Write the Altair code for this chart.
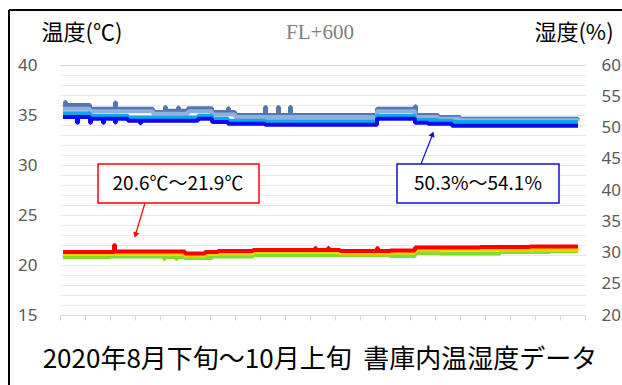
import altair as alt
import pandas as pd

# ---------------- data (days since start of record) ----------------
# temperature (deg C)
RED_T = [0.3, 5.4, 5.5, 12.5, 14.5, 15.8, 19.3, 25.5, 25.6, 26.8, 26.9, 28.0, 31.7, 31.8, 33.0, 35.5, 42.0, 47.0, 51.8]
RED_V = [21.3, 22.0, 21.35, 21.15, 21.3, 21.4, 21.5, 21.7, 21.5, 21.7, 21.5, 21.4, 21.7, 21.4, 21.45, 21.75, 21.8, 21.85, 21.85]
ORG_T = [0.3, 12.5, 14.5, 15.8, 19.3, 28.0, 33.0, 35.5, 51.8]
ORG_V = [21.1, 20.95, 21.1, 21.15, 21.3, 21.2, 21.25, 21.55, 21.6]
GRN_T = [0.3, 5.0, 10.4, 10.5, 11.6, 11.7, 12.5, 15.2, 19.3, 33.0, 35.5, 38.0, 44.0, 49.0, 51.8]
GRN_V = [20.8, 20.85, 20.6, 20.8, 20.6, 20.8, 20.7, 20.85, 21.0, 20.9, 21.2, 21.15, 21.3, 21.4, 21.4]

# humidity (%)
H1_T = [0.3, 0.5, 0.6, 3.0, 5.5, 5.6, 9.3, 10.5, 10.6, 11.8, 11.9, 12.8, 15.2, 16.8, 16.9, 17.5, 20.5, 20.6, 21.8, 21.9, 23.0, 23.1, 31.7, 35.5, 35.6, 37.8, 40.0, 51.8]
H1_V = [53.6, 54.1, 53.6, 53.0, 54.0, 53.0, 52.5, 53.3, 52.7, 53.2, 52.7, 53.1, 52.5, 53.1, 52.5, 52.0, 53.3, 52.0, 53.3, 52.0, 53.3, 52.0, 53.0, 53.4, 52.0, 51.7, 51.4, 51.3]
H2_T = [0.3, 3.0, 9.3, 12.8, 15.2, 17.5, 31.7, 35.5, 37.8, 40.0, 51.8]
H2_V = [53.0, 52.6, 52.2, 52.6, 52.1, 51.7, 52.6, 51.7, 51.4, 51.2, 51.1]
H3_T = [0.3, 3.0, 6.8, 13.8, 15.2, 16.8, 20.5, 31.7, 35.5, 37.8, 39.2, 51.8]
H3_V = [52.3, 51.9, 51.6, 51.9, 51.4, 51.1, 51.0, 51.9, 51.2, 51.1, 50.9, 50.9]
H4_T = [0.3, 1.7, 1.8, 3.0, 3.1, 4.3, 4.4, 5.5, 5.6, 6.8, 8.0, 8.1, 13.8, 15.2, 16.8, 20.5, 31.7, 35.5, 36.8, 39.2, 51.8]
H4_V = [51.7, 50.75, 51.7, 50.75, 51.4, 50.75, 51.4, 50.8, 51.4, 51.1, 50.7, 51.1, 51.4, 50.9, 50.6, 50.45, 51.4, 50.75, 50.6, 50.3, 50.3]

X_TICKS = [0, 2.5, 5, 7.5, 10, 12.5, 15, 17.5, 20, 22.5, 25, 27.5, 30, 32.5, 35, 37.5, 40, 42.5, 45, 47.5, 50, 52.5]
T_TICKS = list(range(15, 41))
H_TICKS = [20, 25, 30, 35, 40, 45, 50, 55, 60]

TITLE_TOP = "FL+600"
LEFT_TITLE = "温度(℃)"
RIGHT_TITLE = "湿度(%)"
BOTTOM_TITLE = "2020年8月下旬～10月上旬\u00a0\u00a0書庫内温湿度データ"
TEMP_NOTE = "20.6℃～21.9℃"
HUM_NOTE = "50.3%～54.1%"

LABEL_FONT = "Noto Sans"
JP_FONT = "Noto Sans CJK JP"

x_enc = alt.X("t:Q", scale=alt.Scale(domain=[0, 52.5], nice=False, zero=False),
              axis=alt.Axis(values=X_TICKS, labels=False, ticks=True, tickSize=5,
                            tickColor="#d9d9d9", domainColor="#d9d9d9", grid=False, title=None))

y_temp = alt.Y("v:Q", scale=alt.Scale(domain=[15, 40], nice=False, zero=False),
               axis=alt.Axis(values=T_TICKS, labelExpr="datum.value % 5 === 0 ? datum.label : ''",
                             grid=True,
                             gridColor={"condition": {"test": "datum.value === 40", "value": "#cfcfcf"},
                                        "value": "#e9e9e9"},
                             ticks=False, domain=False,
                             labelFontSize=17, labelColor="#595959", labelFont=LABEL_FONT,
                             labelPadding=23, labelOverlap=False, title=None))

y_hum = alt.Y("v:Q", scale=alt.Scale(domain=[20, 60], nice=False, zero=False),
              axis=alt.Axis(orient="right", values=H_TICKS, grid=False, ticks=False, domain=False,
                            labelFontSize=17, labelColor="#595959", labelFont=LABEL_FONT,
                            labelPadding=16, labelOverlap=False, title=None))


def series(t, v, color, y_enc):
    return alt.Chart(pd.DataFrame({"t": t, "v": v})).mark_line(
        interpolate="step-after", strokeWidth=4, color=color, strokeJoin="bevel"
    ).encode(x=x_enc, y=y_enc)


temp = alt.layer(
    series(GRN_T, GRN_V, "#7ee02a", y_temp),
    series(ORG_T, ORG_V, "#ffd200", y_temp),
    series(RED_T, RED_V, "#ff0000", y_temp),
)
hum = alt.layer(
    series(H1_T, H1_V, "#5577b0", y_hum),
    series(H2_T, H2_V, "#8fb0dc", y_hum),
    series(H3_T, H3_V, "#12a6ec", y_hum),
    series(H4_T, H4_V, "#0a0af0", y_hum),
)

one = pd.DataFrame({"a": [0]})


def text(s, x, y, size, color="black", font=JP_FONT, align="center"):
    return alt.Chart(one).mark_text(fontSize=size, font=font, color=color, align=align,
                                    baseline="middle").encode(
        x=alt.value(x), y=alt.value(y), text=alt.value(s))


deco = [
    # frame
    alt.Chart(one).mark_rule(color="black", strokeWidth=2).encode(
        x=alt.value(-51), x2=alt.value(-51), y=alt.value(-55), y2=alt.value(330)),
    alt.Chart(one).mark_rule(color="black", strokeWidth=2).encode(
        x=alt.value(-51), x2=alt.value(570), y=alt.value(-55), y2=alt.value(-55)),
    text(LEFT_TITLE, 22, -32, 22),
    text(TITLE_TOP, 260, -32, 21, color="#7f7f7f", font="Liberation Serif"),
    text(RIGHT_TITLE, 514, -32, 22),
    text(BOTTOM_TITLE, 260, 295, 26),
    # red note
    alt.Chart(one).mark_rect(fill="white", stroke="#ff0000", strokeWidth=1.5).encode(
        x=alt.value(38), x2=alt.value(199), y=alt.value(99), y2=alt.value(138)),
    text(TEMP_NOTE, 118, 119, 19),
    alt.Chart(one).mark_rule(color="#ff0000", strokeWidth=1.2).encode(
        x=alt.value(85), x2=alt.value(76), y=alt.value(138), y2=alt.value(168)),
    alt.Chart(one).mark_point(shape="triangle-down", filled=True, color="#ff0000", size=40,
                              angle=16, opacity=1).encode(x=alt.value(75.5), y=alt.value(170)),
    # blue note
    alt.Chart(one).mark_rect(fill="white", stroke="#1010d0", strokeWidth=1.5).encode(
        x=alt.value(337), x2=alt.value(499), y=alt.value(99), y2=alt.value(138)),
    text(HUM_NOTE, 418, 119, 19),
    alt.Chart(one).mark_rule(color="#1010d0", strokeWidth=1.2).encode(
        x=alt.value(361), x2=alt.value(372), y=alt.value(99), y2=alt.value(71)),
    alt.Chart(one).mark_point(shape="triangle-up", filled=True, color="#1010d0", size=40,
                              angle=21, opacity=1).encode(x=alt.value(372.5), y=alt.value(69)),
]

chart = alt.layer(temp, hum, *deco).resolve_scale(y="independent").properties(
    width=525, height=250,
    padding={"left": 60, "top": 65, "right": 37, "bottom": 70},
    autosize=alt.AutoSizeParams(type="none"),
    background="white",
).configure_view(stroke=None)

chart.save("out.html", embed_options={"renderer": "svg", "actions": False})
